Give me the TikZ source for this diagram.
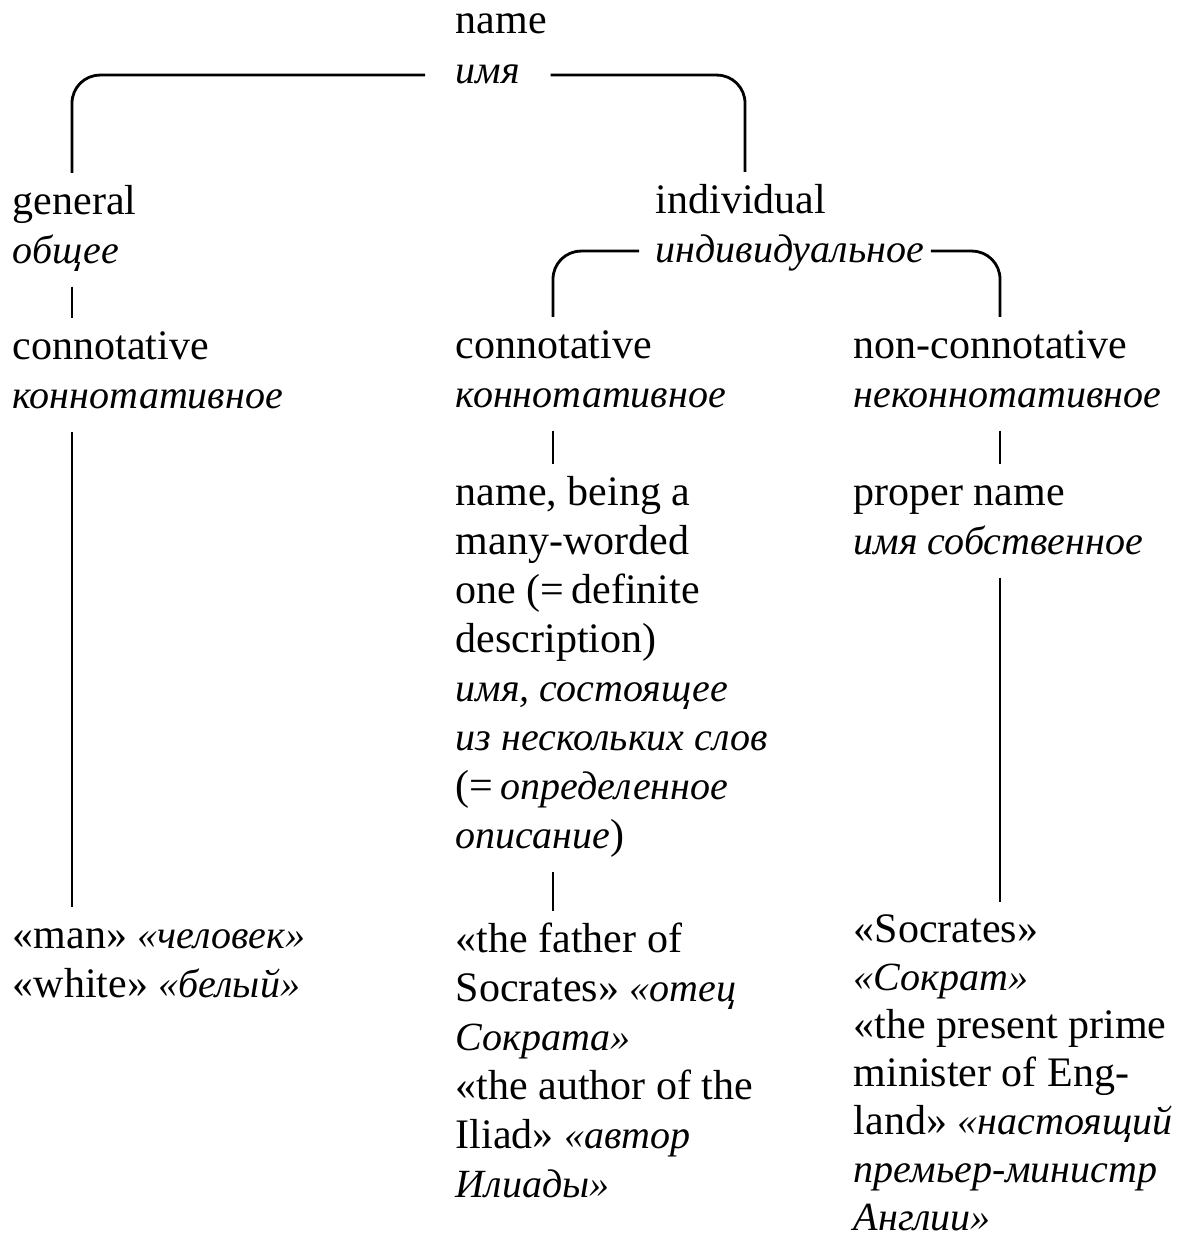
\documentclass[tikz,border=0pt]{standalone}
\usepackage{fontspec}
\setmainfont{Liberation Serif}
\newcommand{\ru}[1]{{\fontsize{10}{12.25}\selectfont\itshape #1}}
\tikzset{
  txt/.style={anchor=north west, align=left, inner sep=0pt,
    font=\fontsize{10.5}{12.25}\selectfont},
  tight/.style={font=\fontsize{10.5}{12}\selectfont},
  link/.style={line width=0.7pt, shorten <=2pt, shorten >=1.5pt},
  bracket/.style={line width=0.7pt, rounded corners=7pt, shorten >=1.5pt}
}

\begin{document}
\begin{tikzpicture}[x=0.25pt, y=-0.25pt]
  \useasboundingbox (0,0) rectangle (1176,1240);

  \coordinate (cL) at (72,0);
  \coordinate (cT) at (745,0);
  \coordinate (cM) at (553,0);
  \coordinate (cN) at (1000,0);

  \node[txt] (name)  at (455,-2) {\strut name};
  \node[txt] (nameR) at (455,48) {\strut\ru{имя}};

  \node[txt] (gen)  at (12,179) {\strut general\\\ru{общее}\strut};
  \node[txt] (conL) at (12,324) {\strut connotative\\\ru{коннотативное}\strut};
  \node[txt] (exL)  at (12,913) {\strut«man» \ru{«человек»}\\«white» \ru{«белый»}\strut};

  \node[txt] (ind)  at (655,178) {\strut individual};
  \node[txt] (indR) at (655,227) {\strut\ru{индивидуальное}};

  \node[txt] (conM) at (455,323) {\strut connotative\\\ru{коннотативное}\strut};
  \node[txt] (defM) at (455,470) {\strut name, being a\\many-worded\\one (=\,definite\\description)\\
    \ru{имя, состоящее}\\\ru{из нескольких слов}\\(=\,\ru{определенное}\\\ru{описание})\strut};
  \node[txt] (exM)  at (455,917) {\strut«the father of\\Socrates» \ru{«отец}\\\ru{Сократа»}\\
    «the author of the\\Iliad» \ru{«автор}\\\ru{Илиады»}\strut};

  \node[txt] (conN)  at (853,323) {\strut non-connotative\\\ru{неконнотативное}\strut};
  \node[txt] (propN) at (853,470) {\strut proper name\\\ru{имя собственное}\strut};
  \node[txt,tight] (exN) at (853,908) {\strut«Socrates»\\\ru{«Сократ»}\\«the present prime\\minister of Eng-\\
    land» \ru{«настоящий}\\\ru{премьер-министр}\\\ru{Англии»}\strut};

  \draw[bracket] ([xshift=-7.5pt,yshift=2pt]nameR.base west) -| (gen.north -| cL);
  \draw[bracket] ([xshift=7.5pt,yshift=2pt]nameR.base east) -| (ind.north -| cT);
  \draw[bracket] ([xshift=-4pt,yshift=2.75pt]indR.base west) -| (conM.north -| cM);
  \draw[bracket] ([xshift=1.5pt,yshift=2.75pt]indR.base east) -| (conN.north -| cN);

  \draw[link] (gen.south -| cL) -- (conL.north -| cL);
  \draw[link] (conL.south -| cL) -- (exL.north -| cL);
  \draw[link] (conM.south -| cM) -- (defM.north -| cM);
  \draw[link] (defM.south -| cM) -- (exM.north -| cM);
  \draw[link] (conN.south -| cN) -- (propN.north -| cN);
  \draw[link] (propN.south -| cN) -- (exN.north -| cN);
\end{tikzpicture}
\end{document}
